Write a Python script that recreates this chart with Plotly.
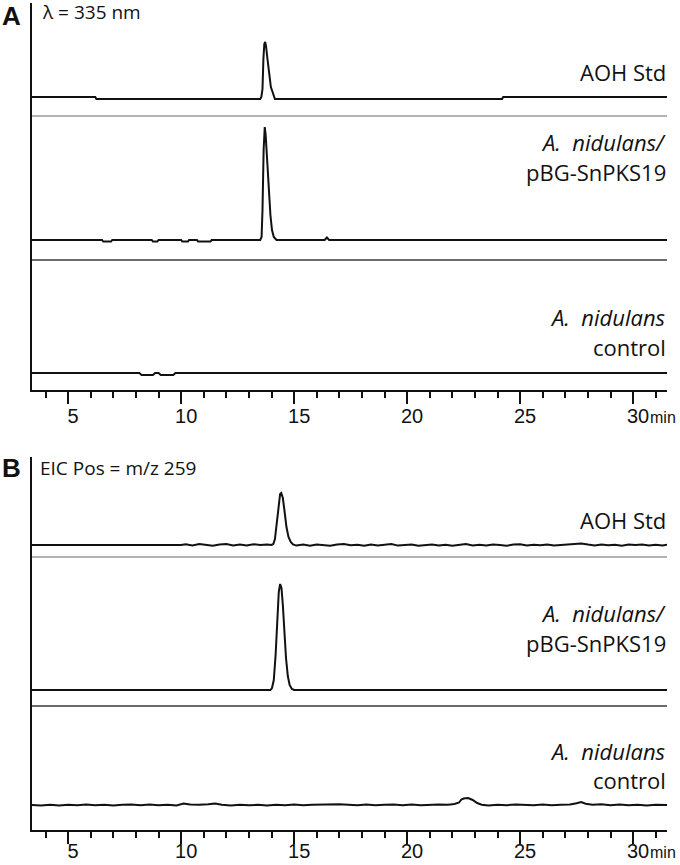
import plotly.graph_objects as go

# ---- data: retention time (min) and signal above each trace's own baseline ----
# Panel A, UV 335 nm
A_AOH_T = [3.4, 6.2, 6.25, 13.50, 13.55, 13.60, 13.64, 13.68, 13.72, 13.76, 13.82, 13.90,
           13.97, 14.03, 14.08, 14.15, 24.2, 24.25, 31.5]
A_AOH_I = [0, 0, -2, -2, 0, 8, 38, 53, 55, 50, 38, 23, 10, 6, 2, -2, -2, 0, 0]

A_PKS_T = [3.4, 6.5, 6.55, 6.9, 6.95, 8.7, 8.75, 8.95, 9.0, 10.0, 10.05, 10.3, 10.35, 10.7,
           10.75, 11.3, 11.35, 13.50, 13.56, 13.60, 13.65, 13.70, 13.74, 13.80, 13.88, 13.95,
           14.02, 14.10, 14.22, 16.35, 16.45, 16.55, 31.5]
A_PKS_I = [0, 0, -1.5, -1.5, 0, 0, -1.5, -1.5, 0, 0, -1.5, -1.5, 0, 0, -1.5, -1.5, 0, 0, 3,
           30, 90, 113, 105, 80, 50, 25, 10, 3, 0, 0, 2.5, 0, 0]

A_CTRL_T = [3.4, 8.15, 8.25, 8.75, 8.85, 9.0, 9.1, 9.65, 9.75, 31.5]
A_CTRL_I = [0, 0, -2, -2, 0, 0, -2, -2, 0, 0]

# Panel B, EIC m/z 259
B_AOH_T = [3.4, 10.0, 10.2, 10.5, 10.8, 11.1, 11.4, 11.7, 12.0, 12.3, 12.6, 12.9, 13.2, 13.5,
           13.8, 14.0, 14.08, 14.15, 14.22, 14.30, 14.38, 14.43, 14.50, 14.58, 14.66, 14.75,
           14.85, 14.95, 15.1, 15.4, 15.7, 16.0, 16.3, 16.6, 16.9, 17.2, 17.5, 17.8, 18.1,
           18.4, 18.7, 19.0, 19.3, 19.6, 19.9, 20.2, 20.5, 20.8, 21.1, 21.4, 21.7, 22.0, 22.3,
           22.6, 22.9, 23.2, 23.5, 23.8, 24.1, 24.4, 24.7, 25.0, 25.3, 25.6, 25.9, 26.2, 26.5,
           26.8, 27.1, 27.4, 27.7, 28.0, 28.3, 28.6, 28.9, 29.2, 29.5, 29.8, 30.1, 30.4, 30.7,
           31.0, 31.3, 31.5]
B_AOH_I = [0, 0, 0.8, -0.5, 1.0, 0.2, -0.8, 0.6, 1.0, -0.4, 0.5, -0.6, 0.8, 0.0,
           0.6, 0, 1, 6, 20, 40, 51, 52, 47, 33, 18, 8,
           3, 0.5, -0.6, 0.4, -0.8, 0.6, 0.0, -0.7, 0.5, 0.9, -0.3, 0.2, -0.8,
           0.6, -0.4, 0.3, 1.0, -0.6, 0.2, 0.5, -0.7, 0.0, 0.6, -0.5, 0.3, -0.8, 0.4,
           0.9, -0.4, 0.2, -0.6, 0.5, 0.0, -0.7, 0.4, 0.8, -0.5, 0.2, -0.3, 0.6, -0.6,
           0.1, 0.7, 1.2, 1.6, 0.4, -0.5, 0.6, -0.3, 0.2, -0.7, 0.5, 0.0, 0.6, -0.4,
           0.3, -0.5, 0.2]

B_PKS_T = [3.4, 13.95, 14.02, 14.10, 14.18, 14.25, 14.32, 14.38, 14.44, 14.50, 14.57, 14.64,
           14.72, 14.80, 14.90, 15.0, 31.5]
B_PKS_I = [0, 0, 2, 10, 35, 70, 98, 106, 102, 85, 58, 32, 14, 5, 1, 0, 0]

B_CTRL_T = [3.4, 3.8, 4.2, 4.6, 5.0, 5.4, 5.8, 6.2, 6.6, 7.0, 7.4, 7.8, 8.2, 8.6, 9.0, 9.4,
            9.8, 10.1, 10.4, 10.8, 11.2, 11.5, 11.8, 12.2, 12.6, 13.0, 13.4, 13.8, 14.2, 14.6,
            15.0, 15.4, 15.8, 16.2, 16.6, 17.0, 17.4, 17.8, 18.2, 18.6, 19.0, 19.4, 19.8, 20.2,
            20.6, 21.0, 21.4, 21.8, 22.1, 22.3, 22.4, 22.5, 22.7, 22.9, 23.1, 23.3, 23.6, 24.0,
            24.4, 24.8, 25.2, 25.6, 26.0, 26.4, 26.8, 27.2, 27.5, 27.7, 27.9, 28.2, 28.6, 29.0,
            29.4, 29.8, 30.2, 30.6, 31.0, 31.5]
B_CTRL_I = [0, -0.4, 0.3, -0.5, 0.2, -0.3, 0.4, -0.2, 0.3, -0.5, 0.2, 0.4, -0.3, 0.5,
            -0.2, 0.3, -0.4, 1.5, 0.4, 0.2, 0.8, 1.6, 0.2, -0.4, 0.3, -0.3, 0.2, -0.5, 0.3,
            -0.2, 0.4, -0.3, 0.2, 0.5, 0.1, 0.8, 0.3, -0.2, 0.4, -0.3, 0.2, 0.5, -0.2,
            0.4, -0.3, 0.2, 0.6, 0.3, 1.0, 2.5, 5.5, 6.5, 7.0, 5.0, 2.0, 0.3, -0.4, 0.3,
            -0.2, 0.4, 0.2, -0.3, 0.5, -0.2, 0.3, 0.6, 1.8, 3.0, 1.2, 0.2, 0.8, -0.3,
            0.4, -0.2, 0.3, -0.4, 0.2, 0.0]

TICKS = [5, 10, 15, 20, 25, 30]
X_RANGE = [3.4, 31.5]

# ---- layout geometry (pixels in a 680 x 865 page) ----
W, H = 680, 865
X0, X1 = 32, 667
PANELS = {
    "A": dict(top=3, bottom=390, xa="x", ya="y", standoff=-5,
              off=dict(aoh=293, sep1=274, pks=150, sep2=130, ctrl=17),
              labels=[72, 142, 172, 317, 347]),
    "B": dict(top=457, bottom=830, xa="x2", ya="y2", standoff=-10,
              off=dict(aoh=285, sep1=273, pks=140, sep2=124, ctrl=25),
              labels=[520, 613, 643, 751, 780]),
}
SEP_COLORS = dict(sep1="#9a9a9a", sep2="#3a3a3a")
SAMPLE_TEXT = ["AOH Std", "<i>A.  nidulans/</i>", "pBG-SnPKS19", "<i>A.  nidulans</i>", "control"]

INK = "#111111"
LABEL_FONT = dict(family="Open Sans", size=22, color=INK)
TICK_FONT = dict(family="Liberation Sans, Arial", size=20, color=INK)
CAPTION_FONT = dict(family="Open Sans", size=19, color=INK)
LETTER_FONT = dict(family="Liberation Sans, Arial", size=26, color=INK)


def py(y):
    return 1 - y / H


fig = go.Figure()

series = {
    "A": [(A_AOH_T, A_AOH_I, "aoh"), (A_PKS_T, A_PKS_I, "pks"), (A_CTRL_T, A_CTRL_I, "ctrl")],
    "B": [(B_AOH_T, B_AOH_I, "aoh"), (B_PKS_T, B_PKS_I, "pks"), (B_CTRL_T, B_CTRL_I, "ctrl")],
}

for key, p in PANELS.items():
    for t, i, name in series[key]:
        fig.add_trace(go.Scatter(
            x=t, y=[v + p["off"][name] for v in i], mode="lines",
            line=dict(color=INK, width=2), xaxis=p["xa"], yaxis=p["ya"],
            showlegend=False, hoverinfo="skip",
        ))
    for sep, col in SEP_COLORS.items():
        fig.add_shape(type="line", xref=f"{p['xa']} domain", yref=p["ya"],
                      x0=0, x1=1, y0=p["off"][sep], y1=p["off"][sep],
                      line=dict(color=col, width=1.5))

axis_x = dict(
    range=X_RANGE, showline=True, linecolor=INK, linewidth=2, mirror=False,
    ticks="outside", ticklen=12, tickwidth=1.5, tickcolor=INK,
    tickvals=TICKS, ticktext=[str(v) for v in TICKS], tickfont=TICK_FONT,
    ticklabelshift=5, showgrid=False, zeroline=False, automargin=False,
    minor=dict(ticks="outside", ticklen=6, tickwidth=1.5, tickcolor=INK, dtick=1, tick0=0,
               showgrid=False),
    domain=[X0 / W, X1 / W],
)
axis_y = dict(
    showline=True, linecolor=INK, linewidth=2, ticks="", showticklabels=False,
    showgrid=False, zeroline=False, automargin=False,
)

pa, pb = PANELS["A"], PANELS["B"]
fig.update_layout(
    template="none",
    width=W, height=H, margin=dict(l=0, r=0, t=0, b=0, autoexpand=False),
    paper_bgcolor="white", plot_bgcolor="white",
    xaxis=dict(axis_x, anchor="y", ticklabelstandoff=pa["standoff"]),
    yaxis=dict(axis_y, anchor="x", range=[0, pa["bottom"] - pa["top"]],
               domain=[py(pa["bottom"]), py(pa["top"])]),
    xaxis2=dict(axis_x, anchor="y2", ticklabelstandoff=pb["standoff"]),
    yaxis2=dict(axis_y, anchor="x2", range=[0, pb["bottom"] - pb["top"]],
                domain=[py(pb["bottom"]), py(pb["top"])]),
)

annotations = []


def label(text, x, y, anchor="right", font=LABEL_FONT):
    annotations.append(dict(text=text, x=x / W, y=py(y), xref="paper", yref="paper",
                            xanchor=anchor, yanchor="middle", showarrow=False, font=font))


# panel letters and detector captions
label("<b>A</b>", 0, 16, "left", LETTER_FONT)
label("<b>B</b>", 0, 468, "left", LETTER_FONT)
label("λ = 335 nm", 40, 12, "left", CAPTION_FONT)
label("EIC Pos = m/z 259", 38, 468, "left", CAPTION_FONT)

# sample labels, right-aligned at the end of the axis
for p in (pa, pb):
    for text, y in zip(SAMPLE_TEXT, p["labels"]):
        label(text, 668, y)
    # unit after the last tick
    label("min", 648, p["bottom"] + 32 + p["standoff"], "left",
          dict(family="Liberation Sans, Arial", size=16, color=INK))

fig.update_layout(annotations=annotations)
fig.write_html(
    "out.html",
    config={"displayModeBar": False},
    post_script="document.body.style.margin='0';document.body.style.overflow='hidden';",
)
